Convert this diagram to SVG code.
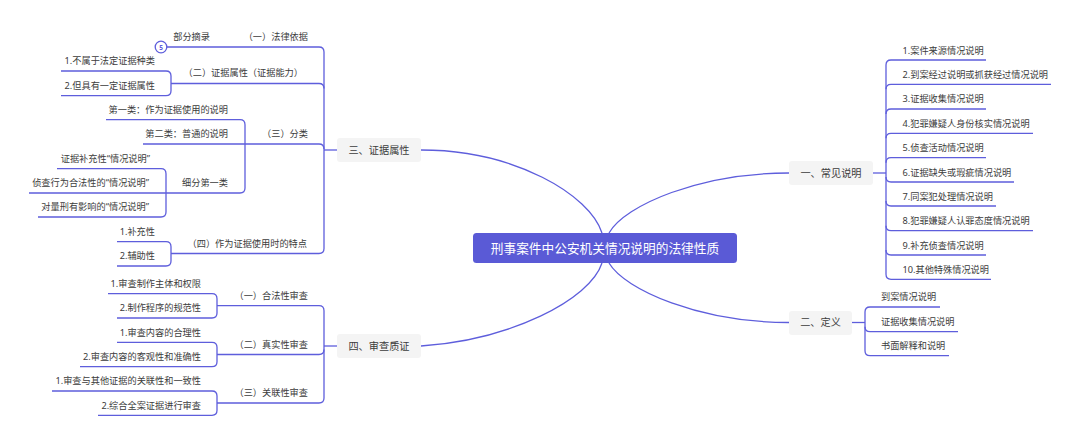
<svg xmlns="http://www.w3.org/2000/svg" width="1080" height="445" viewBox="0 0 1080 445" lang="zh-CN">
<style>
text{font-family:"Noto Sans","Noto Sans CJK SC",sans-serif;font-size:9.2px;fill:#3c3c3c}
.e{text-anchor:end}
.m{text-anchor:middle}
.t{font-size:10.2px;fill:#3c3c3c}
.box{fill:#f4f4f4}
.c path{fill:none;stroke:#5e5edc;stroke-width:1.3}
</style>
<rect width="1080" height="445" fill="#fff"/>
<g id="connectors" class="c">
<path d="M602 233C590 195 515 150 421 150"/>
<path d="M602 263C590 300 510 340 421 346"/>
<path d="M609 233C625 205 700 173 789 173"/>
<path d="M609 263C625 290 700 322.500 789 322.500"/>
<path d="M337 150H324"/>
<path d="M167 47H319Q324 47 324 52V248.500Q324 253.500 319 253.500H171"/>
<path d="M171 83.500H319Q324 83.500 324 88.500"/>
<path d="M143 144H319Q324 144 324 149"/>
<path d="M61 71H166Q171 71 171 76V90.700Q171 95.700 166 95.700H61"/>
<path d="M106 119.700H240Q245 119.700 245 124.700V188Q245 193 240 193H29"/>
<path d="M57 168.700H161Q166 168.700 166 173.700V212Q166 217 161 217H38"/>
<path d="M117 241.700H166Q171 241.700 171 246.700V261Q171 266 166 266H117"/>
<path d="M337 346H324"/>
<path d="M217 305.700H319Q324 305.700 324 310.700V398Q324 403 319 403H217"/>
<path d="M217 354.500H319Q324 354.500 324 349.500"/>
<path d="M108 293.700H212Q217 293.700 217 298.700V313Q217 318 212 318H117"/>
<path d="M117 342.300H212Q217 342.300 217 347.300V361.700Q217 366.700 212 366.700H80"/>
<path d="M52 391H212Q217 391 217 396V410.300Q217 415.300 212 415.300H98"/>
<path d="M873 173H886"/>
<path d="M986 60H891Q886 60 886 65V274.300Q886 279.300 891 279.300H991"/>
<path d="M1051 84.300H891Q886 84.300 886 89.300"/>
<path d="M986 109H891Q886 109 886 114"/>
<path d="M1033 133.300H891Q886 133.300 886 138.300"/>
<path d="M986 157.700H891Q886 157.700 886 162.700"/>
<path d="M1014 182H891Q886 182 886 177"/>
<path d="M996 206H891Q886 206 886 201"/>
<path d="M1033 230.700H891Q886 230.700 886 225.700"/>
<path d="M986 255H891Q886 255 886 250"/>
<path d="M852 322.500H865"/>
<path d="M940 307H870Q865 307 865 312V350.700Q865 355.700 870 355.700H949"/>
<path d="M958 331.700H870Q865 331.700 865 326.700"/>
</g>
<g id="root"><rect x="473" y="233" width="264" height="30" rx="3.500" fill="#5a5ad6"/><text class="m" x="605" y="252.500" style="font-size:12.700px;fill:#fff">刑事案件中公安机关情况说明的法律性质</text></g>
<g id="n3"><rect class="box" x="337" y="138" width="84" height="24" rx="3"/><text class="t m" x="379" y="153.700">三、证据属性</text></g>
<g id="n4"><rect class="box" x="337" y="334" width="84" height="24" rx="3"/><text class="t m" x="379" y="349.700">四、审查质证</text></g>
<g id="n1"><rect class="box" x="789" y="161" width="84" height="24" rx="3"/><text class="t m" x="831" y="176.700">一、常见说明</text></g>
<g id="n2"><rect class="box" x="789" y="311" width="63" height="24" rx="3"/><text class="t m" x="820.500" y="326.200">二、定义</text></g>
<g id="badge"><circle cx="161" cy="47" r="5.800" fill="#fff" stroke="#5e5edc" stroke-width="1.300"/><text class="m" x="161" y="49.500" style="font-size:6.500px;font-weight:bold;fill:#5e5edc">5</text></g>
<g id="n3-1"><text class="e" x="308" y="40.200">（一）法律依据</text></g>
<g id="n3-1-1"><text class="e" x="210" y="40.200">部分摘录</text></g>
<g id="n3-2"><text class="e" x="303" y="76.200">（二）证据属性（证据能力）</text></g>
<g id="n3-2-1"><text class="e" x="155" y="64.200">1.不属于法定证据种类</text></g>
<g id="n3-2-2"><text class="e" x="155" y="89.200">2.但具有一定证据属性</text></g>
<g id="n3-3"><text class="e" x="308" y="137.200">（三）分类</text></g>
<g id="n3-3-1"><text class="e" x="228" y="113.200">第一类：作为证据使用的说明</text></g>
<g id="n3-3-2"><text class="e" x="228" y="137.200">第二类：普通的说明</text></g>
<g id="n3-3-3"><text class="e" x="228" y="186.200">细分第一类</text></g>
<g id="n3-3-3-1"><text class="e" x="150" y="161.700">证据补充性“情况说明”</text></g>
<g id="n3-3-3-2"><text class="e" x="149" y="186.200">侦查行为合法性的“情况说明”</text></g>
<g id="n3-3-3-3"><text class="e" x="149" y="210.200">对量刑有影响的“情况说明”</text></g>
<g id="n3-4"><text class="e" x="307" y="246.700">（四）作为证据使用时的特点</text></g>
<g id="n3-4-1"><text class="e" x="155" y="234.700">1.补充性</text></g>
<g id="n3-4-2"><text class="e" x="155" y="259.200">2.辅助性</text></g>
<g id="n4-1"><text class="e" x="308" y="299.200">（一）合法性审查</text></g>
<g id="n4-1-1"><text class="e" x="201" y="286.700">1.审查制作主体和权限</text></g>
<g id="n4-1-2"><text class="e" x="201" y="311.200">2.制作程序的规范性</text></g>
<g id="n4-2"><text class="e" x="308" y="347.700">（二）真实性审查</text></g>
<g id="n4-2-1"><text class="e" x="201" y="335.700">1.审查内容的合理性</text></g>
<g id="n4-2-2"><text class="e" x="201" y="360.200">2.审查内容的客观性和准确性</text></g>
<g id="n4-3"><text class="e" x="308" y="396.200">（三）关联性审查</text></g>
<g id="n4-3-1"><text class="e" x="201" y="384.200">1.审查与其他证据的关联性和一致性</text></g>
<g id="n4-3-2"><text class="e" x="201" y="408.700">2.综合全案证据进行审查</text></g>
<g id="n1-1"><text x="902.500" y="53.700">1.案件来源情况说明</text></g>
<g id="n1-2"><text x="902.500" y="78.200">2.到案经过说明或抓获经过情况说明</text></g>
<g id="n1-3"><text x="902.500" y="102.200">3.证据收集情况说明</text></g>
<g id="n1-4"><text x="902.500" y="126.700">4.犯罪嫌疑人身份核实情况说明</text></g>
<g id="n1-5"><text x="902.500" y="151.200">5.侦查活动情况说明</text></g>
<g id="n1-6"><text x="902.500" y="175.700">6.证据缺失或瑕疵情况说明</text></g>
<g id="n1-7"><text x="902.500" y="199.700">7.同案犯处理情况说明</text></g>
<g id="n1-8"><text x="902.500" y="224.200">8.犯罪嫌疑人认罪态度情况说明</text></g>
<g id="n1-9"><text x="902.500" y="248.700">9.补充侦查情况说明</text></g>
<g id="n1-10"><text x="902.500" y="273.200">10.其他特殊情况说明</text></g>
<g id="n2-1"><text x="881" y="300.200">到案情况说明</text></g>
<g id="n2-2"><text x="881" y="324.700">证据收集情况说明</text></g>
<g id="n2-3"><text x="881" y="349.200">书面解释和说明</text></g>
</svg>
